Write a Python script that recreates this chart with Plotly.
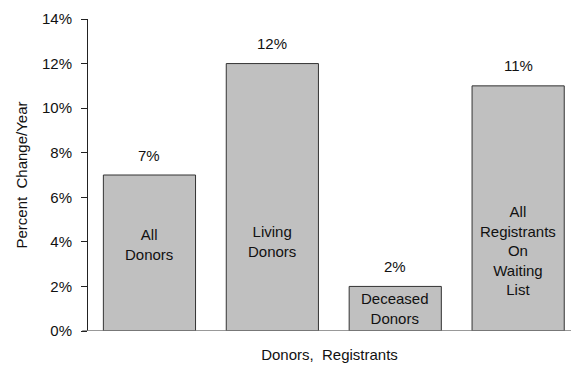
import plotly.graph_objects as go

categories = ["All Donors", "Living Donors", "Deceased Donors", "All Registrants On Waiting List"]
inner_labels = ["All<br>Donors", "Living<br>Donors", "Deceased<br>Donors", "All<br>Registrants<br>On<br>Waiting<br>List"]
inner_label_y = [0.039, 0.040, 0.0103, 0.036]
values = [0.07, 0.12, 0.02, 0.11]
value_labels = ["7%", "12%", "2%", "11%"]
y_ticks = [0, 0.02, 0.04, 0.06, 0.08, 0.10, 0.12, 0.14]

FONT = "Liberation Sans, Arial, sans-serif"
SIZE = 15
x_pos = list(range(len(categories)))

fig = go.Figure()
fig.add_trace(go.Bar(
    x=x_pos, y=values,
    width=0.75,
    marker=dict(color="#c0c0c0", line=dict(color="#333333", width=1)),
    hoverinfo="skip",
))

for i, (lab, ly) in enumerate(zip(inner_labels, inner_label_y)):
    fig.add_annotation(x=i, y=ly, text=lab, showarrow=False,
                       font=dict(family=FONT, size=SIZE, color="#111111"),
                       align="center", yanchor="middle")

for i, (v, t) in enumerate(zip(values, value_labels)):
    fig.add_annotation(x=i, y=v, text=t, showarrow=False, yanchor="middle",
                       yshift=20, font=dict(family=FONT, size=SIZE, color="#111111"))

fig.update_layout(
    width=571, height=367,
    margin=dict(l=88, r=0, t=19, b=36),
    paper_bgcolor="white", plot_bgcolor="white",
    showlegend=False,
    font=dict(family=FONT, size=SIZE, color="#111111"),
    xaxis=dict(range=[-0.5, 3.43], showticklabels=False, ticks="",
               showgrid=False, zeroline=False, showline=False,
               title=dict(text="Donors,  Registrants", standoff=18,
                          font=dict(family=FONT, size=SIZE))),
    yaxis=dict(range=[0, 0.14], tickvals=y_ticks, tickformat=".0%",
               ticks="outside", ticklen=6, tickcolor="#222222",
               ticklabelstandoff=6,
               showline=True, linecolor="#222222", linewidth=1,
               showgrid=False, zeroline=False,
               title=dict(text="Percent  Change/Year", standoff=10,
                          font=dict(family=FONT, size=SIZE))),
)

# baseline across the category axis
fig.add_shape(type="line", xref="paper", yref="y", x0=-0.012, x1=1, y0=0, y1=0,
              line=dict(color="#777777", width=1.5))

fig.write_html("out.html")
